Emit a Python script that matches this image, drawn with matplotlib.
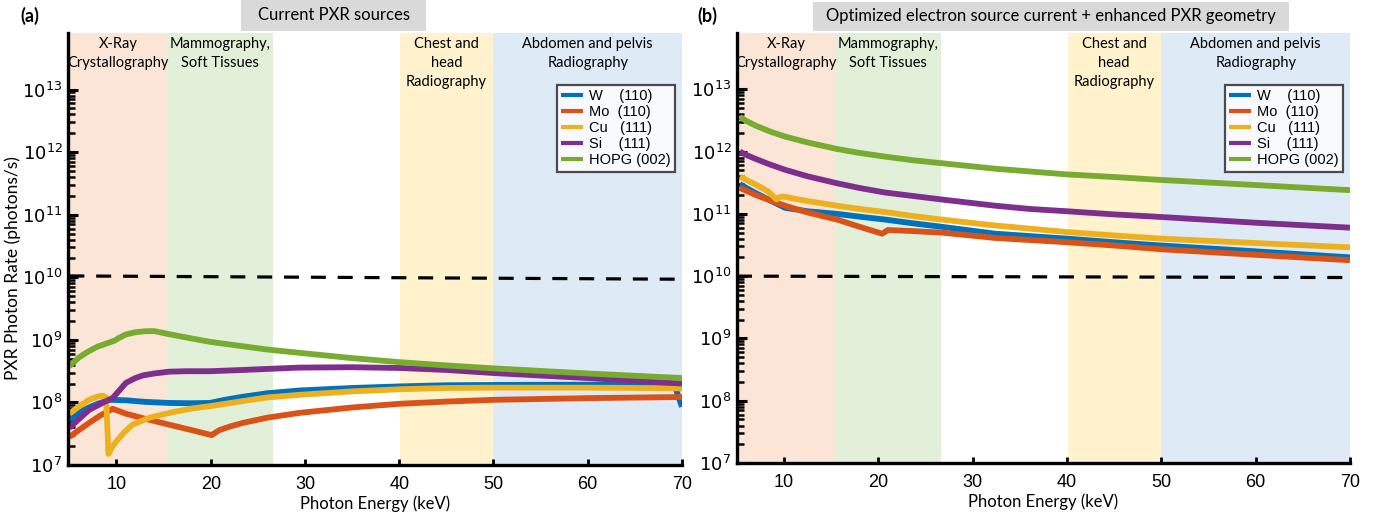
import matplotlib
matplotlib.use("Agg")
import matplotlib.pyplot as plt
from matplotlib.patches import Rectangle
from matplotlib.ticker import NullFormatter, FixedLocator

plt.rcParams['mathtext.fontset'] = 'cm'
TXT = ['Lato', 'DejaVu Sans']
NARROW = ['Liberation Sans Narrow', 'Liberation Sans', 'DejaVu Sans']

# ---------------- data: current PXR sources ----------------
E_W_a = [5, 6, 7, 8, 9.3, 11, 13, 15.6, 18, 19.9, 21.5, 23.4, 26, 29.4, 35, 40,
         45, 50, 60, 69.2, 70]
W_a = [5.3e7, 6.8e7, 8.2e7, 9.5e7, 1.1e8, 1.08e8, 1.02e8, 9.8e7, 9.7e7, 9.8e7,
       1.1e8, 1.23e8, 1.4e8, 1.55e8, 1.7e8, 1.8e8, 1.88e8, 1.9e8, 1.92e8, 1.9e8,
       8.5e7]

E_Mo_a = [5, 6, 7.1, 8.3, 9.6, 11, 12.8, 15.6, 18, 20.1, 20.9, 22, 23.4, 26, 29.4,
          35, 40, 45, 50, 60, 70]
Mo_a = [2.8e7, 3.6e7, 4.7e7, 6.2e7, 7.9e7, 6.6e7, 5.6e7, 4.4e7, 3.6e7, 3.0e7,
        3.6e7, 4.1e7, 4.7e7, 5.7e7, 6.8e7, 8.3e7, 9.5e7, 1.03e8, 1.1e8, 1.17e8,
        1.22e8]

E_Cu_a = [5, 6, 7.1, 8.0, 8.55, 8.9, 9.15, 9.6, 10, 10.8, 11.7, 13.5, 15.6, 18,
          19.9, 23.4, 26, 29.4, 35, 40, 45, 50, 60, 70]
Cu_a = [6.6e7, 8.6e7, 1.1e8, 1.24e8, 1.28e8, 1.2e8, 1.5e7, 2.0e7, 2.4e7, 3.3e7,
        4.4e7, 5.7e7, 6.8e7, 8.0e7, 8.7e7, 1.05e8, 1.2e8, 1.32e8, 1.5e8, 1.62e8,
        1.7e8, 1.72e8, 1.72e8, 1.68e8]

E_Si_a = [5, 6, 7.1, 8.5, 9.6, 10.3, 11, 12, 12.8, 14, 15.6, 17.5, 19.9, 23.4,
          29.4, 35, 40, 45, 50, 60, 70]
Si_a = [3.9e7, 5.4e7, 7.6e7, 9.8e7, 1.18e8, 1.55e8, 2.05e8, 2.45e8, 2.7e8, 2.9e8,
        3.1e8, 3.15e8, 3.15e8, 3.3e8, 3.6e8, 3.65e8, 3.55e8, 3.3e8, 2.95e8, 2.45e8,
        2.0e8]

E_HOPG_a = [5, 6, 7, 8, 9, 9.8, 10.3, 11, 12, 13, 14, 15.6, 18, 19.9, 23.4, 26,
            29.4, 35, 40, 45, 50, 60, 70]
HOPG_a = [3.8e8, 5.2e8, 6.5e8, 7.8e8, 8.8e8, 9.7e8, 1.08e9, 1.22e9, 1.32e9,
          1.37e9, 1.38e9, 1.23e9, 1.05e9, 9.3e8, 7.9e8, 7.0e8, 6.2e8, 5.1e8,
          4.4e8, 3.9e8, 3.5e8, 2.9e8, 2.45e8]

E_ref = [5, 70]
ref_a = [1.05e10, 0.93e10]

# ---------------- data: optimized source + enhanced geometry ----------------
E_W_b = [5.3, 6, 7, 8.5, 10.1, 12.5, 15.6, 18, 20.7, 23.5, 26.7, 32.4, 40, 45,
         50, 60, 70]
W_b = [3e11, 2.6e11, 2.15e11, 1.65e11, 1.25e11, 1.1e11, 1e11, 9e10, 8.1e10,
       7.1e10, 6.2e10, 4.8e10, 4e10, 3.5e10, 3.1e10, 2.5e10, 2e10]

E_Mo_b = [5.3, 6, 7, 8.5, 10.1, 12.5, 15.6, 18, 20.4, 21, 23.5, 26.7, 32.4, 40,
          45, 50, 60, 70]
Mo_b = [2.6e11, 2.35e11, 2e11, 1.65e11, 1.35e11, 1.05e11, 8.1e10, 6.2e10, 4.8e10,
        5.5e10, 5.3e10, 5e10, 4.1e10, 3.5e10, 3.1e10, 2.7e10, 2.2e10, 1.8e10]

E_Cu_b = [5.3, 6, 7, 8.3, 9.2, 9.5, 9.9, 12, 15.6, 18, 20.7, 23.5, 26.7, 32.4,
          40, 45, 50, 60, 70]
Cu_b = [4e11, 3.5e11, 2.95e11, 2.3e11, 1.7e11, 1.85e11, 1.9e11, 1.65e11,
        1.35e11, 1.2e11, 1.07e11, 9.3e10, 8.1e10, 6.5e10, 5.1e10, 4.5e10, 4e10,
        3.4e10, 2.9e10]

E_Si_b = [5.3, 6, 7, 8.5, 10.1, 12.5, 15.6, 18, 20.7, 23.5, 26.7, 32.4, 36, 40,
          45, 50, 60, 70]
Si_b = [1e12, 8.8e11, 7.6e11, 6.2e11, 5.1e11, 4e11, 3.1e11, 2.6e11, 2.2e11,
        1.95e11, 1.7e11, 1.35e11, 1.2e11, 1.1e11, 9.8e10, 8.9e10, 7.2e10, 6e10]

E_HOPG_b = [5.3, 6, 7, 8.5, 10.1, 12.5, 15.6, 18, 20.7, 23.5, 26.7, 32.4, 36,
            40, 45, 50, 60, 70]
HOPG_b = [3.6e12, 3.1e12, 2.6e12, 2.1e12, 1.74e12, 1.4e12, 1.1e12, 9.5e11,
          8.3e11, 7.3e11, 6.5e11, 5.3e11, 4.8e11, 4.3e11, 3.9e11, 3.5e11, 2.9e11,
          2.4e11]

ref_b = [1.0e10, 0.95e10]

labels = ['W    (110)', 'Mo  (110)', 'Cu   (111)', 'Si    (111)', 'HOPG (002)']
colors = ['#0072BD', '#D95319', '#EDB120', '#7E2F8E', '#77AC30']

band_edges = [5, 15.5, 26.6, 40.1, 50, 70]
band_colors = ['#FBE5D6', '#E2F0D9', None, '#FFF2CC', '#DEEBF7']
band_labels = ['X-Ray\nCrystallography', 'Mammography,\nSoft Tissues', None,
               'Chest and\nhead\nRadiography', 'Abdomen and pelvis\nRadiography']
band_label_x = [10.2, 21.0, None, 45.0, 60.0]

fig = plt.figure(figsize=(13.78, 5.2), dpi=100)
ax_a = fig.add_axes([0.0493, 0.1058, 0.4456, 0.8307])
ax_b = fig.add_axes([0.5348, 0.1096, 0.4449, 0.8269])

major_y = [10.0 ** k for k in range(7, 14)]
minor_y = [m * 10.0 ** k for k in range(7, 13) for m in range(2, 10)]


def draw_panel(ax, xmin, series, ref):
    ax.set_yscale('log')
    ax.set_xlim(xmin, 70)
    ax.set_ylim(1e7, 8e13)
    for i, c in enumerate(band_colors):
        if c is None:
            continue
        lo = max(band_edges[i], xmin)
        ax.axvspan(lo, band_edges[i + 1], color=c, lw=0, zorder=0)
        ax.text(band_label_x[i], 0.99, band_labels[i], transform=ax.get_xaxis_transform(),
                ha='center', va='top', fontsize=10.5, family=TXT, linespacing=1.45,
                zorder=1)
    handles = []
    for (E, v), c, lab in zip(series, colors, labels):
        h, = ax.plot(E, v, color=c, lw=4.2, label=lab, zorder=3,
                     solid_capstyle='butt', solid_joinstyle='round')
        handles.append(h)
    ax.plot(E_ref, ref, color='black', lw=2.3, dashes=(4.7, 3.7), zorder=2)
    leg = ax.legend(handles=handles, loc='upper left', bbox_to_anchor=(0.796, 0.880),
                    frameon=True, fancybox=False, edgecolor='#222222',
                    prop={'family': ['Liberation Sans', 'DejaVu Sans'], 'size': 10.5},
                    handlelength=1.5, handletextpad=0.4, labelspacing=0.14,
                    borderpad=0.3, borderaxespad=0)
    leg.get_frame().set_linewidth(1.6)
    leg.get_frame().set_facecolor('white')
    for ln in leg.get_lines():
        ln.set_linewidth(3.0)
    leg.set_zorder(5)

    for s in ('top', 'right'):
        ax.spines[s].set_visible(False)
    for s in ('left', 'bottom'):
        ax.spines[s].set_linewidth(2.4)
        ax.spines[s].set_color('black')
        ax.spines[s].set_zorder(6)
    ax.yaxis.set_major_locator(FixedLocator(major_y))
    ax.yaxis.set_minor_locator(FixedLocator(minor_y))
    ax.yaxis.set_minor_formatter(NullFormatter())
    ax.tick_params(axis='y', which='major', direction='in', length=7, width=2.2,
                   labelsize=13, pad=4)
    ax.tick_params(axis='y', which='minor', direction='in', length=5, width=1.8)
    ax.set_xticks([10, 20, 30, 40, 50, 60, 70])
    ax.tick_params(axis='x', which='major', direction='in', length=4, width=2,
                   pad=8)
    for t in ax.get_xticklabels():
        t.set_family(NARROW)
        t.set_fontsize(13)
    ax.set_xlabel('Photon Energy (keV)', family=TXT, fontsize=12, labelpad=2)


draw_panel(ax_a, 4.85,
           [(E_W_a, W_a), (E_Mo_a, Mo_a), (E_Cu_a, Cu_a), (E_Si_a, Si_a),
            (E_HOPG_a, HOPG_a)], ref_a)
draw_panel(ax_b, 5.0,
           [(E_W_b, W_b), (E_Mo_b, Mo_b), (E_Cu_b, Cu_b), (E_Si_b, Si_b),
            (E_HOPG_b, HOPG_b)], ref_b)

W_PX, H_PX = 1378.0, 520.0

# shared y-axis title at the far left
fig.text(13 / W_PX, 1 - 268 / H_PX, 'PXR Photon Rate (photons/s)', rotation=90,
         ha='center', va='center', family=TXT, fontsize=12.5)


# headline boxes above each panel
def headline(x0, x1, y0, y1, text):
    fig.patches.append(Rectangle((x0 / W_PX, 1 - y1 / H_PX), (x1 - x0) / W_PX,
                                 (y1 - y0) / H_PX, transform=fig.transFigure,
                                 facecolor='#D9D9D9', edgecolor='none', zorder=0))
    fig.text((x0 + x1) / 2 / W_PX, 1 - (y0 + y1) / 2 / H_PX, text, ha='center',
             va='center', fontsize=12, family=TXT)


headline(241, 426, 0, 31, 'Current PXR sources')
headline(813, 1289, 2, 31, 'Optimized electron source current + enhanced PXR geometry')

fig.text(20 / W_PX, 1 - 16 / H_PX, '(a)', fontsize=13, fontweight='bold',
         family=TXT, ha='left', va='center')
fig.text(697 / W_PX, 1 - 16 / H_PX, '(b)', fontsize=13, fontweight='bold',
         family=TXT, ha='left', va='center')

fig.savefig('out.png', dpi=100)
